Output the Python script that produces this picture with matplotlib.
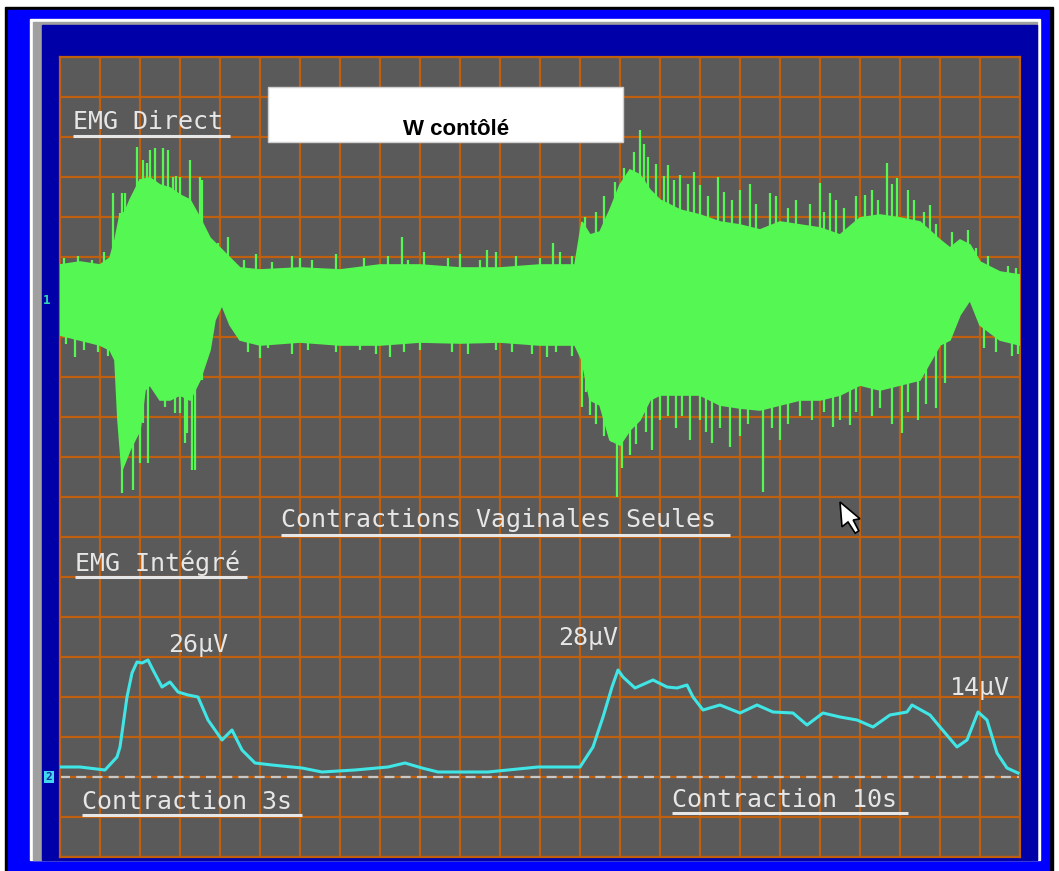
import numpy as np
import matplotlib.pyplot as plt
from matplotlib.patches import Rectangle, Polygon

# screen is 24 x 20 divisions; values below are in divisions
CH1_ZERO = 13.925
CH2_ZERO = 2.0

# EMG direct: upper / lower envelope of the raw signal (divisions from its zero)
env_top_x = [0, 0.5, 1.0, 1.25, 1.375, 1.5, 1.625, 1.75, 2.0, 2.25, 2.5, 2.75, 3.0,
             3.25, 3.5, 3.75, 4.0, 4.25, 4.5, 5.0, 6.0, 7.0, 8.0, 9.0, 10.0, 11.0,
             12.0, 12.875, 13.05, 13.25, 13.5, 13.75, 14.0, 14.25, 14.5, 14.75, 15.0,
             15.5, 16.0, 16.5, 17.0, 17.5, 18.0, 18.5, 19.0, 19.5, 20.0, 20.5, 21.0,
             21.5, 22.0, 22.25, 22.5, 22.75, 23.0, 23.5, 24.0]
env_top = [0.875, 0.95, 0.875, 1.05, 1.5, 2.125, 2.2, 2.5, 3.0, 3.05, 2.875, 2.8, 2.625,
           2.5, 2.05, 1.55, 1.3, 1.05, 0.8, 0.75, 0.8, 0.75, 0.875, 0.875, 0.8, 0.8,
           0.875, 0.875, 1.95, 1.625, 1.7, 2.25, 2.875, 3.25, 3.125, 2.75, 2.5,
           2.25, 2.125, 1.95, 1.875, 1.75, 1.95, 1.875, 1.8, 1.625, 2.05, 2.125, 2.05,
           1.95, 1.5, 1.3, 1.5, 1.375, 0.95, 0.7, 0.625]
env_bot_x = [0, 0.5, 1.0, 1.25, 1.375, 1.45, 1.55, 1.75, 2.0, 2.125, 2.25, 2.5, 2.75,
             3.0, 3.25, 3.5, 3.75, 3.875, 4.05, 4.25, 4.5, 5.0, 6.0, 7.0, 8.0, 9.0,
             10.0, 11.0, 12.0, 12.875, 13.05, 13.25, 13.5, 13.75, 14.0, 14.25, 14.5,
             14.75, 15.0, 15.5, 16.0, 16.5, 17.0, 17.5, 18.0, 18.5, 19.0, 19.5, 20.0,
             20.5, 21.0, 21.5, 22.0, 22.25, 22.5, 22.75, 23.0, 23.5, 24.0]
env_bot = [-0.875, -1.0, -1.125, -1.25, -1.5, -3.0, -4.25, -3.75, -3.25, -2.25, -2.125,
           -2.5, -2.5, -2.375, -2.5, -2.0, -1.25, -0.5, -0.125, -0.625, -1.0, -1.125,
           -1.05, -1.125, -1.125, -1.05, -1.075, -1.05, -1.125, -1.125, -1.5, -2.5,
           -2.625, -3.5, -3.625, -3.25, -3.0, -2.5, -2.375, -2.375, -2.375, -2.625,
           -2.7, -2.75, -2.625, -2.5, -2.5, -2.375, -2.125, -2.25, -2.125, -2.0,
           -1.125, -1.0, -0.375, 0.0, -0.625, -1.0, -1.125]

# spikes rising above the envelope
spike_up_x = [1.325, 1.55, 1.925, 2.075, 2.25, 2.575, 2.9, 3.25, 3.5, 4.2, 6.0, 8.55,
              10.675, 12.325, 13.125, 13.875, 14.5, 14.7, 15.2, 15.5, 16.0, 16.45,
              17.0, 17.75, 19.0, 19.25, 20.125, 20.675, 20.925, 21.2, 21.75, 22.7,
              1.5, 1.625, 1.825, 2.175, 2.375, 2.7, 2.825, 3.0, 3.375, 3.55, 3.8, 3.95,
              0.1, 0.45, 0.8, 1.1,
              4.6, 4.9, 5.3, 5.8, 6.3, 6.9, 7.6, 8.2, 8.7, 9.1, 9.7, 10.0, 10.5, 10.9,
              11.4, 12.0, 12.5, 12.8,
              13.4, 13.6, 14.1, 14.35, 14.6, 14.9, 15.1, 15.35, 15.7, 15.85, 16.2,
              16.6, 16.8, 17.25, 17.4, 17.9, 18.2, 18.4, 18.75, 19.1, 19.4, 19.6,
              19.9, 20.3, 20.45, 20.8, 21.35, 21.6, 21.9, 22.3,
              22.9, 23.2, 23.7, 23.9]
spike_up = [2.675, 2.675, 3.825, 3.5, 3.75, 3.8, 3.1, 3.5, 3.075, 1.575, 1.05, 1.575,
            1.25, 1.425, 2.075, 2.95, 4.25, 3.575, 3.375, 3.125, 2.875, 3.075,
            2.75, 2.675, 2.925, 2.675, 2.625, 3.425, 3.05, 2.75, 2.375, 1.75,
            2.175, 2.675, 2.075, 3.425, 3.8, 3.75, 3.075, 3.075, 2.075, 3.0, 1.425, 1.425,
            1.05, 1.1, 1.0, 1.2,
            1.0, 1.15, 0.95, 1.1, 1.0, 1.15, 1.05, 1.1, 1.0, 1.2, 1.05, 1.15, 1.0, 1.2,
            1.1, 1.05, 1.2, 1.1,
            2.2, 2.6, 3.3, 3.7, 3.9, 3.4, 3.1, 3.0, 2.9, 3.2, 2.6,
            2.7, 2.5, 2.9, 2.4, 2.6, 2.3, 2.5, 2.4, 2.2, 2.5, 2.3,
            2.6, 2.75, 2.5, 2.9, 2.5, 2.2, 1.9, 1.7,
            1.3, 1.1, 0.85, 0.8]

# spikes dropping below the envelope
spike_dn_x = [0.375, 1.55, 1.825, 2.0, 2.2, 2.875, 3.125, 3.3, 5.0, 8.25, 12.175,
              13.05, 13.25, 13.8, 13.925, 14.25, 14.8, 15.0, 15.75, 16.3, 16.75,
              17.575, 18.0, 19.325, 19.75, 21.05, 21.45, 22.125,
              1.675, 2.075, 2.375, 2.625, 2.825, 3.0, 3.175, 3.375, 3.55,
              0.15, 0.6, 0.95, 1.2,
              4.7, 5.2, 5.8, 6.2, 6.9, 7.5, 7.9, 8.6, 9.0, 9.8, 10.2, 10.9, 11.3,
              11.8, 12.4, 12.8,
              13.15, 13.4, 13.6, 14.05, 14.4, 14.65, 15.2, 15.4, 15.55, 16.0, 16.15,
              16.5, 17.0, 17.2, 17.8, 18.2, 18.5, 18.8, 19.1, 19.5, 19.9, 20.3, 20.5,
              20.8, 21.2, 21.65, 21.9,
              23.1, 23.4, 23.8, 23.95]
spike_dn = [-1.425, -4.825, -4.75, -4.075, -4.075, -2.825, -3.575, -4.25, -1.45, -1.425,
            -1.425, -2.675, -2.875, -3.55, -4.925, -3.875, -3.75, -3.0, -3.5, -3.575,
            -3.675, -4.8, -3.5, -3.175, -3.125, -3.325, -3.0, -2.075,
            -3.75, -3.075, -1.575, -2.675, -2.425, -2.825, -3.325, -4.25, -2.0,
            -1.1, -1.25, -1.3, -1.4,
            -1.3, -1.2, -1.35, -1.25, -1.3, -1.25, -1.35, -1.3, -1.25, -1.3, -1.35,
            -1.25, -1.3, -1.35, -1.3, -1.4,
            -2.3, -3.1, -3.4, -4.2, -3.6, -3.3, -2.9, -3.2, -2.9, -3.0, -3.3,
            -3.2, -3.4, -3.1, -3.2, -3.1, -2.9, -3.0, -2.8, -3.0, -2.8, -2.9, -2.7,
            -3.1, -2.8, -2.6, -2.7,
            -1.2, -1.3, -1.4, -1.35]

# integrated EMG (divisions above the dashed zero line)
int_x = [0, 0.5, 1.125, 1.425, 1.5, 1.675, 1.8, 1.925, 2.05, 2.2, 2.325, 2.55, 2.75,
         2.95, 3.2, 3.45, 3.7, 4.05, 4.3, 4.55, 4.875, 5.3, 6.05, 6.55, 7.375, 8.2,
         8.625, 9.05, 9.45, 10.7, 11.95, 13.0, 13.325, 13.575, 13.8, 13.95, 14.075,
         14.375, 14.825, 15.175, 15.425, 15.675, 15.825, 16.075, 16.5, 17.0, 17.425,
         17.825, 18.325, 18.675, 19.075, 19.5, 19.925, 20.325, 20.75, 21.175, 21.3,
         21.75, 22.0, 22.425, 22.675, 22.95, 23.175, 23.425, 23.675, 23.95]
int_y = [0.25, 0.25, 0.175, 0.5, 0.75, 2.0, 2.6, 2.875, 2.85, 2.925, 2.675, 2.25, 2.375,
         2.125, 2.05, 2.0, 1.425, 0.925, 1.175, 0.675, 0.35, 0.3, 0.225, 0.125, 0.175,
         0.25, 0.35, 0.225, 0.125, 0.125, 0.25, 0.25, 0.75, 1.5, 2.25, 2.675, 2.5,
         2.225, 2.425, 2.25, 2.225, 2.3, 2.0, 1.675, 1.8, 1.6, 1.8, 1.625, 1.6, 1.3,
         1.6, 1.5, 1.425, 1.25, 1.55, 1.625, 1.8, 1.55, 1.25, 0.75, 0.925, 1.625,
         1.425, 0.6, 0.225, 0.1]

labels = ["26µV", "28µV", "14µV"]
label_x = [2.7, 12.45, 22.25]
label_y = [5.125, 5.3, 4.05]

GREEN = "#55f752"
CYAN = "#40e6e6"
GRID = "#c0600f"
SCREEN = "#5a5a5a"
TXT = "#e6e6e6"
W, H = 1059, 871

fig = plt.figure(figsize=(W / 100, H / 100), dpi=100)

# instrument window frame, in pixels
bg = fig.add_axes([0, 0, 1, 1])
bg.set_xlim(0, W)
bg.set_ylim(H, 0)
bg.axis("off")
bg.add_patch(Rectangle((5, 7), 1048, 870, color="black"))
bg.add_patch(Rectangle((8, 10), 1041, 870, color="#0000ff"))
bg.add_patch(Rectangle((30, 19), 1010, 841, color="white"))
bg.add_patch(Rectangle((33, 22), 1004, 838, color="#a0a0a0"))
bg.add_patch(Rectangle((42, 25), 995, 835, color="#0000a8"))

ax = fig.add_axes([60 / W, (H - 857) / H, 960 / W, 800 / H])
ax.set_zorder(1)
ax.set_facecolor(SCREEN)
ax.set_xlim(0, 24)
ax.set_ylim(0, 20)
ax.set_xticks(np.arange(25))
ax.set_yticks(np.arange(21))
ax.tick_params(length=0, labelbottom=False, labelleft=False)
ax.grid(True, color=GRID, lw=1.6)
ax.set_axisbelow(True)
for s in ax.spines.values():
    s.set_color(GRID)
    s.set_linewidth(1.6)

# channel 1 : raw EMG
poly_x = np.r_[env_top_x, env_bot_x[::-1]]
poly_y = CH1_ZERO + np.r_[env_top, env_bot[::-1]]
ax.fill(poly_x, poly_y, color=GREEN, lw=1.2, zorder=3)
ax.vlines(spike_up_x, CH1_ZERO, CH1_ZERO + np.array(spike_up), color=GREEN, lw=1.6, zorder=3)
ax.vlines(spike_dn_x, CH1_ZERO + np.array(spike_dn), CH1_ZERO, color=GREEN, lw=1.6, zorder=3)

# channel 2 : integrated EMG
ax.axhline(CH2_ZERO, color="#c8c8c8", lw=1.6, dashes=(4.5, 2.8), zorder=2)
ax.plot(int_x, CH2_ZERO + np.array(int_y), color=CYAN, lw=2.2, zorder=4)

mono = dict(family="DejaVu Sans Mono", color=TXT, fontsize=18, va="baseline", zorder=6)


def label(x, y, s, x_end, y_line):
    ax.text(x, y, s, **mono)
    ax.plot([x, x_end], [y_line, y_line], color=TXT, lw=2.2, zorder=6,
            solid_capstyle="butt", clip_on=False)


label(0.325, 18.2, "EMG Direct", 4.25, 18.025)
label(5.525, 8.25, "Contractions Vaginales Seules", 16.75, 8.05)
label(0.375, 7.15, "EMG Intégré", 4.675, 7.0)
label(0.55, 1.2, "Contraction 3s", 6.05, 1.05)
label(15.3, 1.25, "Contraction 10s", 21.2, 1.1)

for s, x, y in zip(labels, label_x, label_y):
    ax.text(x, y, s, **mono)

ax.add_patch(Rectangle((5.2, 17.875), 8.875, 1.375, facecolor="white", edgecolor="#d0d0d0",
                       lw=1, zorder=5))
ax.text(9.9, 18.05, "W contôlé", family="Liberation Sans", weight="bold", fontsize=16,
        color="black", ha="center", va="baseline", zorder=6)

# channel markers on the left edge
ax.text(-0.33, CH1_ZERO, "1", family="DejaVu Sans Mono", fontsize=9, weight="bold",
        color="#30d8b0", ha="center", va="center", clip_on=False)
ax.text(-0.27, CH2_ZERO, "2", family="DejaVu Sans Mono", fontsize=8, weight="bold",
        color="#1030a0", ha="center", va="center", clip_on=False,
        bbox=dict(boxstyle="square,pad=0.12", facecolor="#40d8f0", edgecolor="none"))

# mouse pointer
tip_x, tip_y = 19.5, 8.875
arrow = np.array([[0, 0], [0.05, -0.62], [0.2, -0.5], [0.38, -0.78], [0.47, -0.72],
                  [0.33, -0.45], [0.5, -0.42]])
ax.add_patch(Polygon(arrow + [tip_x, tip_y], closed=True, facecolor="white",
                     edgecolor="black", lw=1.2, zorder=7))

fig.savefig("out.png", dpi=100)
